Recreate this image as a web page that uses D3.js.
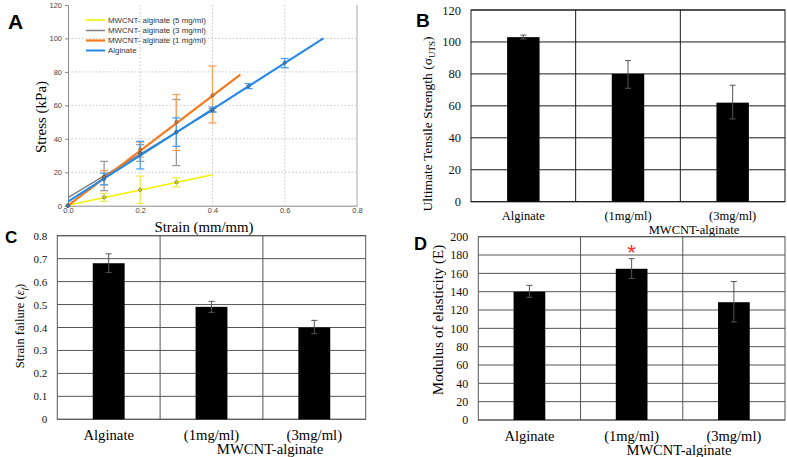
<!DOCTYPE html>
<html>
<head>
<meta charset="utf-8">
<script src="https://cdn.jsdelivr.net/npm/d3@7"></script>
<style>
  body { margin: 0; background: #fff; }
  svg { display: block; }
</style>
</head>
<body>
<svg id="fig" width="787" height="457"></svg>
<script>
// ---------- Panel A data (Stress vs Strain) ----------
const seriesNames = ["MWCNT- alginate (5 mg/ml)", "MWCNT- alginate (3 mg/ml)", "MWCNT- alginate (1 mg/ml)", "Alginate"];
const strainYellow = [0, 0.1, 0.2, 0.3];
const stressYellow = [0, 5, 9.5, 14];
const loYellow = [0, 2.6, 1.4, 11.3];
const hiYellow = [0, 7.3, 17.7, 16.7];
const trendYellow = [[0, 0.3], [0.4, 18.5]];

const strainGrey = [0, 0.1, 0.2, 0.3, 0.4];
const stressGrey = [0, 17.5, 31.5, 44, 57];
const loGrey = [0, 9, 26.5, 24, 56];
const hiGrey = [0, 26.5, 36.5, 63.5, 58];
const trendGrey = [[0, 4.8], [0.4, 57]];

const strainOrange = [0, 0.1, 0.2, 0.3, 0.4];
const stressOrange = [0, 17, 33.5, 50, 66];
const loOrange = [0, 12.5, 29, 33, 49.5];
const hiOrange = [0, 21, 38, 66.5, 83.5];
const trendOrange = [[0, 0], [0.477, 78.4]];

const strainBlue = [0, 0.1, 0.2, 0.3, 0.4, 0.5, 0.6];
const stressBlue = [0, 16, 30.5, 44, 57.5, 71.5, 85.5];
const loBlue = [0, 12.5, 22, 35.5, 56, 70, 82.5];
const hiBlue = [0, 19.5, 38.5, 52.5, 59, 73, 88];
const trendBlue = [[0, 2.4], [0.707, 100]];

const xTicksA = [0, 0.2, 0.4, 0.6, 0.8];
const yTicksA = [0, 20, 40, 60, 80, 100, 120];

// ---------- Bar panels data ----------
const categories = ["Alginate", "(1mg/ml)", "(3mg/ml)"];
const groupLabel = "MWCNT-alginate";

const utsValues = [103, 80, 62];
const utsLo = [101.8, 71, 51.8];
const utsHi = [104.3, 88.3, 72.9];
const utsTicks = [0, 20, 40, 60, 80, 100, 120];

const strainFailValues = [0.68, 0.49, 0.40];
const strainFailLo = [0.64, 0.466, 0.373];
const strainFailHi = [0.721, 0.514, 0.431];
const strainFailTicks = [0, 0.1, 0.2, 0.3, 0.4, 0.5, 0.6, 0.7, 0.8];

const modulusValues = [140, 165, 128.5];
const modulusLo = [133.8, 154.5, 107];
const modulusHi = [146.9, 176, 151];
const modulusTicks = [0, 20, 40, 60, 80, 100, 120, 140, 160, 180, 200];

const svg = d3.select("#fig");
const serif = "'Liberation Serif', 'Times New Roman', serif";
const sans = "'Liberation Sans', Arial, sans-serif";

// ================= Panel A =================
(function panelA() {
  const L = 68, R = 357, T = 5, B = 205.7;
  const x = d3.scaleLinear().domain([0, 0.8]).range([L, R]);
  const y = d3.scaleLinear().domain([0, 120]).range([B, T]);
  const g = svg.append("g");

  // dotted grid
  g.selectAll(".gx").data(xTicksA.filter(d => d > 0 && d < 0.8)).enter().append("line")
    .attr("x1", d => x(d)).attr("x2", d => x(d)).attr("y1", T).attr("y2", B)
    .attr("stroke", "#c8c8c8").attr("stroke-width", 1).attr("stroke-dasharray", "1.5,2");
  g.selectAll(".gy").data(yTicksA.filter(d => d > 0 && d < 120)).enter().append("line")
    .attr("x1", L).attr("x2", R).attr("y1", d => y(d)).attr("y2", d => y(d))
    .attr("stroke", "#c8c8c8").attr("stroke-width", 1).attr("stroke-dasharray", "1.5,2");

  // frame right
  g.append("line").attr("x1", R).attr("x2", R).attr("y1", T).attr("y2", B).attr("stroke", "#aaa");

  // axes
  const ax = g.append("g").attr("transform", `translate(0,${B})`)
    .call(d3.axisBottom(x).tickValues(xTicksA).tickFormat(d3.format(".1f")).tickSizeOuter(0).tickSize(0));
  const ay = g.append("g").attr("transform", `translate(${L},0)`)
    .call(d3.axisLeft(y).tickValues(yTicksA).tickSizeOuter(0).tickSize(3));
  [ax, ay].forEach(a => {
    a.select(".domain").attr("stroke", "#888");
    a.selectAll(".tick line").attr("stroke", "#888");
    a.selectAll("text").attr("font-family", sans).attr("font-size", 7.5).attr("fill", "#444");
  });
  ax.selectAll("text").attr("y", 2).attr("dy", "0.71em");

  const series = [
    { xs: strainYellow, ys: stressYellow, lo: loYellow, hi: hiYellow, trend: trendYellow, color: "#f2f200", err: "#ecec50", w: 1.6 },
    { xs: strainGrey, ys: stressGrey, lo: loGrey, hi: hiGrey, trend: trendGrey, color: "#808080", err: "#9a9a9a", w: 1.5 },
    { xs: strainOrange, ys: stressOrange, lo: loOrange, hi: hiOrange, trend: trendOrange, color: "#f47a1f", err: "#f5a35c", w: 2.2 },
    { xs: strainBlue, ys: stressBlue, lo: loBlue, hi: hiBlue, trend: trendBlue, color: "#2389e6", err: "#4aa0ee", w: 2 }
  ];

  // error bars
  series.forEach(s => {
    const eg = g.append("g").attr("stroke", s.err).attr("stroke-width", 1.3);
    s.xs.forEach((xv, i) => {
      if (s.hi[i] - s.lo[i] <= 0) return;
      eg.append("line").attr("x1", x(xv)).attr("x2", x(xv)).attr("y1", y(s.lo[i])).attr("y2", y(s.hi[i]));
      eg.append("line").attr("x1", x(xv) - 4).attr("x2", x(xv) + 4).attr("y1", y(s.lo[i])).attr("y2", y(s.lo[i]));
      eg.append("line").attr("x1", x(xv) - 4).attr("x2", x(xv) + 4).attr("y1", y(s.hi[i])).attr("y2", y(s.hi[i]));
    });
  });
  // trend lines
  const line = d3.line().x(d => x(d[0])).y(d => y(d[1]));
  series.forEach(s => {
    g.append("path").attr("d", line(s.trend)).attr("fill", "none")
      .attr("stroke", s.color).attr("stroke-width", s.w);
  });
  // markers
  series.forEach(s => {
    g.selectAll(null).data(s.xs.map((xv, i) => [xv, s.ys[i]])).enter().append("circle")
      .attr("cx", d => x(d[0])).attr("cy", d => y(d[1])).attr("r", 1.6)
      .attr("fill", s.color).attr("stroke", "#555").attr("stroke-width", 0.7);
  });

  // legend
  const lg = g.append("g");
  const ly = [20, 30.5, 40.5, 50.5];
  series.forEach((s, i) => {
    lg.append("line").attr("x1", 86).attr("x2", 105).attr("y1", ly[i]).attr("y2", ly[i])
      .attr("stroke", s.color).attr("stroke-width", s.w);
    lg.append("text").attr("x", 108).attr("y", ly[i] + 2.8).text(seriesNames[i])
      .attr("font-family", sans).attr("font-size", 7.9).attr("fill", "#333");
  });

  // axis titles
  svg.append("text").attr("transform", `translate(46,117) rotate(-90)`).attr("text-anchor", "middle")
    .attr("font-family", serif).attr("font-size", 15).text("Stress (kPa)");
  svg.append("text").attr("x", 204).attr("y", 232).attr("text-anchor", "middle")
    .attr("font-family", serif).attr("font-size", 14.8).text("Strain (mm/mm)");
  svg.append("text").attr("x", 8).attr("y", 29).attr("font-family", sans).attr("font-weight", "bold")
    .attr("font-size", 21).text("A");
})();

// ================= Bar panel helper =================
function barPanel(opt) {
  const { L, R, T, B, domain, ticks, values, lo, hi, lineColor, tickFmt, tickSize } = opt;
  const x = d3.scaleBand().domain(categories).range([L, R]).padding(0);
  const y = d3.scaleLinear().domain(domain).range([B, T]);
  const g = svg.append("g");

  // horizontal grid
  g.selectAll(null).data(ticks).enter().append("line")
    .attr("x1", L).attr("x2", R).attr("y1", d => y(d)).attr("y2", d => y(d))
    .attr("stroke", lineColor).attr("stroke-width", 1);
  // vertical dividers
  g.selectAll(null).data(categories.slice(1)).enter().append("line")
    .attr("x1", d => x(d)).attr("x2", d => x(d)).attr("y1", T).attr("y2", B)
    .attr("stroke", lineColor).attr("stroke-width", 1);
  g.append("rect").attr("x", L).attr("y", T).attr("width", R - L).attr("height", B - T)
    .attr("fill", "none").attr("stroke", lineColor).attr("stroke-width", 1);

  // bars
  const bw = x.bandwidth() * 0.31;
  g.selectAll(null).data(categories).enter().append("rect")
    .attr("x", d => x(d) + x.bandwidth() / 2 - bw / 2)
    .attr("y", (d, i) => y(values[i]))
    .attr("width", bw)
    .attr("height", (d, i) => y(0) - y(values[i]))
    .attr("fill", "#000");
  // error bars
  const eg = g.append("g").attr("stroke", "#555").attr("stroke-width", 1);
  categories.forEach((c, i) => {
    const cx = x(c) + x.bandwidth() / 2;
    eg.append("line").attr("x1", cx).attr("x2", cx).attr("y1", y(lo[i])).attr("y2", y(hi[i]));
    eg.append("line").attr("x1", cx - 3).attr("x2", cx + 3).attr("y1", y(lo[i])).attr("y2", y(lo[i]));
    eg.append("line").attr("x1", cx - 3).attr("x2", cx + 3).attr("y1", y(hi[i])).attr("y2", y(hi[i]));
  });

  // tick labels
  const ay = g.append("g").attr("transform", `translate(${L},0)`)
    .call(d3.axisLeft(y).tickValues(ticks).tickFormat(tickFmt).tickSize(0).tickPadding(opt.tickPad));
  ay.select(".domain").remove();
  ay.selectAll("text").attr("font-family", serif).attr("font-size", tickSize).attr("fill", "#111");

  // category labels
  g.selectAll(null).data(categories).enter().append("text")
    .attr("x", d => x(d) + x.bandwidth() / 2).attr("y", opt.catY)
    .attr("text-anchor", "middle").attr("font-family", serif).attr("font-size", opt.catSize)
    .text(d => d);
  g.append("text").attr("x", opt.groupX).attr("y", opt.groupY).attr("text-anchor", "middle")
    .attr("font-family", serif).attr("font-size", opt.catSize).text(groupLabel);

  // panel letter
  svg.append("text").attr("x", opt.letterX).attr("y", opt.letterY).attr("font-family", sans)
    .attr("font-weight", "bold").attr("font-size", opt.letterSize).text(opt.letter);
  return { x, y, g };
}

// ================= Panel B =================
(function () {
  barPanel({
    L: 471, R: 785, T: 10, B: 201.7, domain: [0, 120], ticks: utsTicks,
    values: utsValues, lo: utsLo, hi: utsHi, lineColor: "#1a1a1a",
    tickFmt: d3.format("d"), tickSize: 12.5, tickPad: 10,
    catY: 220, catSize: 12.5, groupX: 694, groupY: 234,
    letter: "B", letterX: 416, letterY: 27, letterSize: 19
  });
  const t = svg.append("text").attr("transform", "translate(432,124) rotate(-90)")
    .attr("text-anchor", "middle").attr("font-family", serif).attr("font-size", 13.5);
  t.append("tspan").text("Ultimate Tensile Strength (σ");
  t.append("tspan").attr("font-size", 9).attr("dy", 3).text("UTS");
  t.append("tspan").attr("dy", -3).text(")");
})();

// ================= Panel C =================
(function () {
  barPanel({
    L: 57.3, R: 365.7, T: 235.7, B: 419.3, domain: [0, 0.8], ticks: strainFailTicks,
    values: strainFailValues, lo: strainFailLo, hi: strainFailHi, lineColor: "#555",
    tickFmt: d => d === 0 ? "0" : d3.format(".1f")(d), tickSize: 11, tickPad: 10,
    catY: 440, catSize: 14.7, groupX: 270, groupY: 454,
    letter: "C", letterX: 5, letterY: 243, letterSize: 17
  });
  const t = svg.append("text").attr("transform", "translate(24,326) rotate(-90)")
    .attr("text-anchor", "middle").attr("font-family", serif).attr("font-size", 12.5);
  t.append("tspan").text("Strain failure (");
  t.append("tspan").attr("font-style", "italic").text("ε");
  t.append("tspan").attr("font-style", "italic").attr("font-size", 8.5).attr("dy", 2.5).text("f");
  t.append("tspan").attr("dy", -2.5).text(")");
})();

// ================= Panel D =================
(function () {
  const p = barPanel({
    L: 478.3, R: 785, T: 236.7, B: 420, domain: [0, 200], ticks: modulusTicks,
    values: modulusValues, lo: modulusLo, hi: modulusHi, lineColor: "#555",
    tickFmt: d3.format("d"), tickSize: 12, tickPad: 10,
    catY: 441, catSize: 14.5, groupX: 679, groupY: 455,
    letter: "D", letterX: 414, letterY: 250, letterSize: 18
  });
  svg.append("text").attr("transform", "translate(443,320) rotate(-90)")
    .attr("text-anchor", "middle").attr("font-family", serif).attr("font-size", 15)
    .text("Modulus of elasticity (E)");
  // significance asterisk above the 1mg/ml bar
  svg.append("text").attr("x", p.x(categories[1]) + p.x.bandwidth() / 2).attr("y", p.y(modulusHi[1]) + 1)
    .attr("text-anchor", "middle").attr("font-family", sans).attr("font-size", 22)
    .attr("fill", "#ff2a2a").text("*");
})();
</script>
</body>
</html>
